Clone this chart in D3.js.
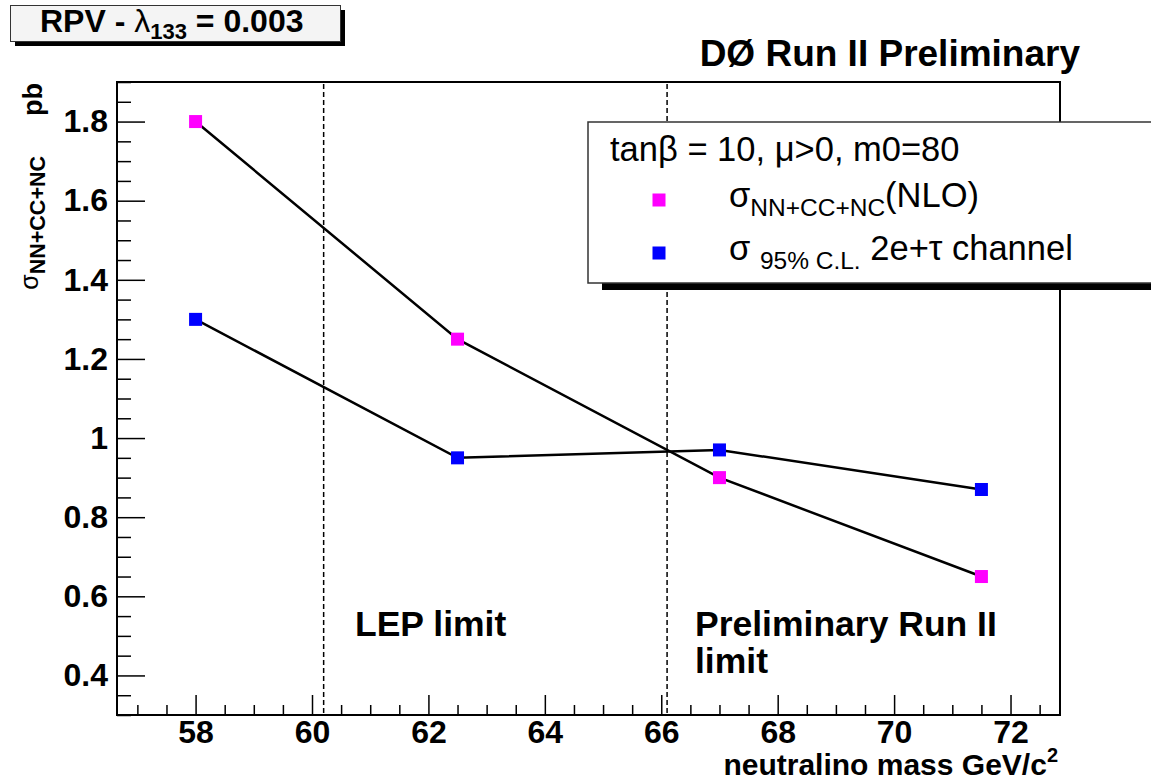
<!DOCTYPE html>
<html>
<head>
<meta charset="utf-8">
<script src="https://cdn.jsdelivr.net/npm/d3@7"></script>
<style>
  body { margin: 0; background: #fff; }
  svg { display: block; font-family: "Liberation Sans", Arial, Helvetica, sans-serif; }
</style>
</head>
<body>
<svg id="chart" width="1151" height="780"></svg>
<script>
// neutralino mass points (GeV/c^2)
var masses = [58, 62.5, 67, 71.5];
// sigma NN+CC+NC (NLO), pb
var sigmaNLO = [1.80, 1.25, 0.90, 0.65];
// sigma 95% C.L., 2e+tau channel, pb
var sigmaLimit = [1.30, 0.95, 0.97, 0.87];
// vertical limit lines
var limitLines = [60.2, 66.1];
// tick labels
var xTicks = [58, 60, 62, 64, 66, 68, 70, 72];
var yTicks = [0.4, 0.6, 0.8, 1.0, 1.2, 1.4, 1.6, 1.8];

var frame = {left: 117, right: 1060, top: 82, bottom: 715};

var svg = d3.select("#chart");

var x = d3.scaleLinear().domain([56.65, 72.85]).range([frame.left, frame.right]);
var y = d3.scaleLinear().domain([0.3, 1.9]).range([frame.bottom, frame.top]);

// frame
svg.append("rect")
    .attr("x", frame.left).attr("y", frame.top)
    .attr("width", frame.right - frame.left)
    .attr("height", frame.bottom - frame.top)
    .attr("fill", "none").attr("stroke", "#000").attr("stroke-width", 2);

// x axis: major + minor ticks pointing inward
var xMinor = d3.range(57, 72.51, 0.5).filter(function(v) { return v % 2 !== 0; });
svg.append("g")
    .attr("transform", "translate(0," + frame.bottom + ")")
    .call(d3.axisBottom(x).tickValues(xMinor).tickSize(-10).tickFormat(""))
    .call(function(g) { g.select(".domain").remove(); })
    .selectAll("line").attr("stroke-width", 1.5);

var xAxis = svg.append("g")
    .attr("transform", "translate(0," + frame.bottom + ")")
    .call(d3.axisBottom(x).tickValues(xTicks).tickSize(-20).tickPadding(0)
        .tickFormat(d3.format("d")));
xAxis.select(".domain").remove();
xAxis.selectAll("line").attr("stroke-width", 1.5);
xAxis.selectAll("text")
    .attr("y", 28).attr("dy", 0)
    .attr("font-size", 32).attr("font-weight", "bold")
    .attr("font-family", "Liberation Sans, Arial, sans-serif").attr("fill", "#000");

// y axis
var yMinor = d3.range(0, 33).map(function(i) { return 0.3 + i * 0.05; })
    .filter(function(v) { return Math.abs(v * 5 - Math.round(v * 5)) > 0.01; });
svg.append("g")
    .attr("transform", "translate(" + frame.left + ",0)")
    .call(d3.axisLeft(y).tickValues(yMinor).tickSize(-14).tickFormat(""))
    .call(function(g) { g.select(".domain").remove(); })
    .selectAll("line").attr("stroke-width", 1.5);

var yAxis = svg.append("g")
    .attr("transform", "translate(" + frame.left + ",0)")
    .call(d3.axisLeft(y).tickValues(yTicks).tickSize(-28).tickPadding(9)
        .tickFormat(d3.format("~g")));
yAxis.select(".domain").remove();
yAxis.selectAll("line").attr("stroke-width", 1.5);
yAxis.selectAll("text")
    .attr("font-size", 32).attr("font-weight", "bold")
    .attr("font-family", "Liberation Sans, Arial, sans-serif").attr("fill", "#000");

// dashed limit lines
svg.selectAll(".limit")
    .data(limitLines)
    .enter().append("line")
    .attr("class", "limit")
    .attr("x1", function(d) { return x(d); }).attr("x2", function(d) { return x(d); })
    .attr("y1", frame.top + 2).attr("y2", frame.bottom)
    .attr("stroke", "#000").attr("stroke-width", 1.5)
    .attr("stroke-dasharray", "5,3");

// series
var series = [
    {values: sigmaNLO, color: "#ff00ff"},
    {values: sigmaLimit, color: "#0000ff"}
];
var line = d3.line()
    .x(function(d) { return x(d[0]); })
    .y(function(d) { return y(d[1]); });

series.forEach(function(s) {
    var pts = masses.map(function(m, i) { return [m, s.values[i]]; });
    svg.append("path")
        .attr("d", line(pts))
        .attr("fill", "none").attr("stroke", "#000").attr("stroke-width", 2.5);
    svg.selectAll(null)
        .data(pts)
        .enter().append("rect")
        .attr("x", function(d) { return x(d[0]) - 6.5; })
        .attr("y", function(d) { return y(d[1]) - 6.5; })
        .attr("width", 13).attr("height", 13)
        .attr("fill", s.color);
});

// region labels
var bold = function(sel) { return sel.attr("font-weight", "bold").attr("fill", "#000"); };
svg.append("text").attr("x", 355).attr("y", 636).attr("font-size", 35.5).call(bold).text("LEP limit");
svg.append("text").attr("x", 695).attr("y", 636).attr("font-size", 35.5).call(bold).text("Preliminary Run II");
svg.append("text").attr("x", 695).attr("y", 673).attr("font-size", 35.5).call(bold).text("limit");

// title
svg.append("text").attr("x", 1080).attr("y", 66).attr("text-anchor", "end")
    .attr("font-size", 37).call(bold).text("D\u00d8 Run II Preliminary");

// RPV box
svg.append("rect").attr("x", 15).attr("y", 10).attr("width", 330).attr("height", 36).attr("fill", "#000");
svg.append("rect").attr("x", 10.5).attr("y", 5.5).attr("width", 330).attr("height", 36)
    .attr("fill", "#f4f4f4").attr("stroke", "#333").attr("stroke-width", 1);
var rpv = svg.append("text").attr("x", 40).attr("y", 32).attr("font-size", 32).call(bold);
rpv.append("tspan").text("RPV - ");
rpv.append("tspan").attr("font-weight", "normal").text("\u03bb");
rpv.append("tspan").attr("font-size", 22).attr("dy", 7).text("133");
rpv.append("tspan").attr("dy", -7).text(" = 0.003");

// axis titles
var xt = svg.append("text").attr("x", 1058).attr("y", 775).attr("text-anchor", "end")
    .attr("font-size", 30).call(bold);
xt.append("tspan").text("neutralino mass GeV/c");
xt.append("tspan").attr("font-size", 20).attr("dy", -13).text("2");

svg.append("text").attr("transform", "translate(42,83) rotate(-90)")
    .attr("text-anchor", "end").attr("font-size", 27).call(bold).text("pb");
var yt = svg.append("text").attr("transform", "translate(38,156) rotate(-90)")
    .attr("text-anchor", "end").attr("font-size", 25).attr("fill", "#000");
yt.append("tspan").text("\u03c3");
yt.append("tspan").attr("font-size", 21.5).attr("font-weight", "bold").attr("dy", 7).text("NN+CC+NC");

// legend
var lg = {x: 588, y: 122, w: 580, h: 161};
svg.append("rect").attr("x", lg.x + 14).attr("y", lg.y + 7).attr("width", lg.w).attr("height", lg.h).attr("fill", "#000");
svg.append("rect").attr("x", lg.x).attr("y", lg.y).attr("width", lg.w).attr("height", lg.h)
    .attr("fill", "#fff").attr("stroke", "#333").attr("stroke-width", 1.5);

svg.append("text").attr("x", 610).attr("y", 161).attr("font-size", 34.5).attr("fill", "#000")
    .text("tan\u03b2 = 10, \u03bc>0, m0=80");

var legendRows = [
    {color: "#ff00ff", y: 200, main: "\u03c3", sub: "NN+CC+NC", rest: "(NLO)"},
    {color: "#0000ff", y: 253, main: "\u03c3 ", sub: "95% C.L.", rest: " 2e+\u03c4 channel"}
];
legendRows.forEach(function(r) {
    svg.append("rect").attr("x", 659 - 6.5).attr("y", r.y - 6.5)
        .attr("width", 13).attr("height", 13).attr("fill", r.color);
    var t = svg.append("text").attr("x", 729).attr("y", r.y + 7).attr("font-size", 34.5).attr("fill", "#000");
    t.append("tspan").text(r.main);
    t.append("tspan").attr("font-size", 24.5).attr("dy", 9).text(r.sub);
    t.append("tspan").attr("dy", -9).text(r.rest);
});
</script>
</body>
</html>
